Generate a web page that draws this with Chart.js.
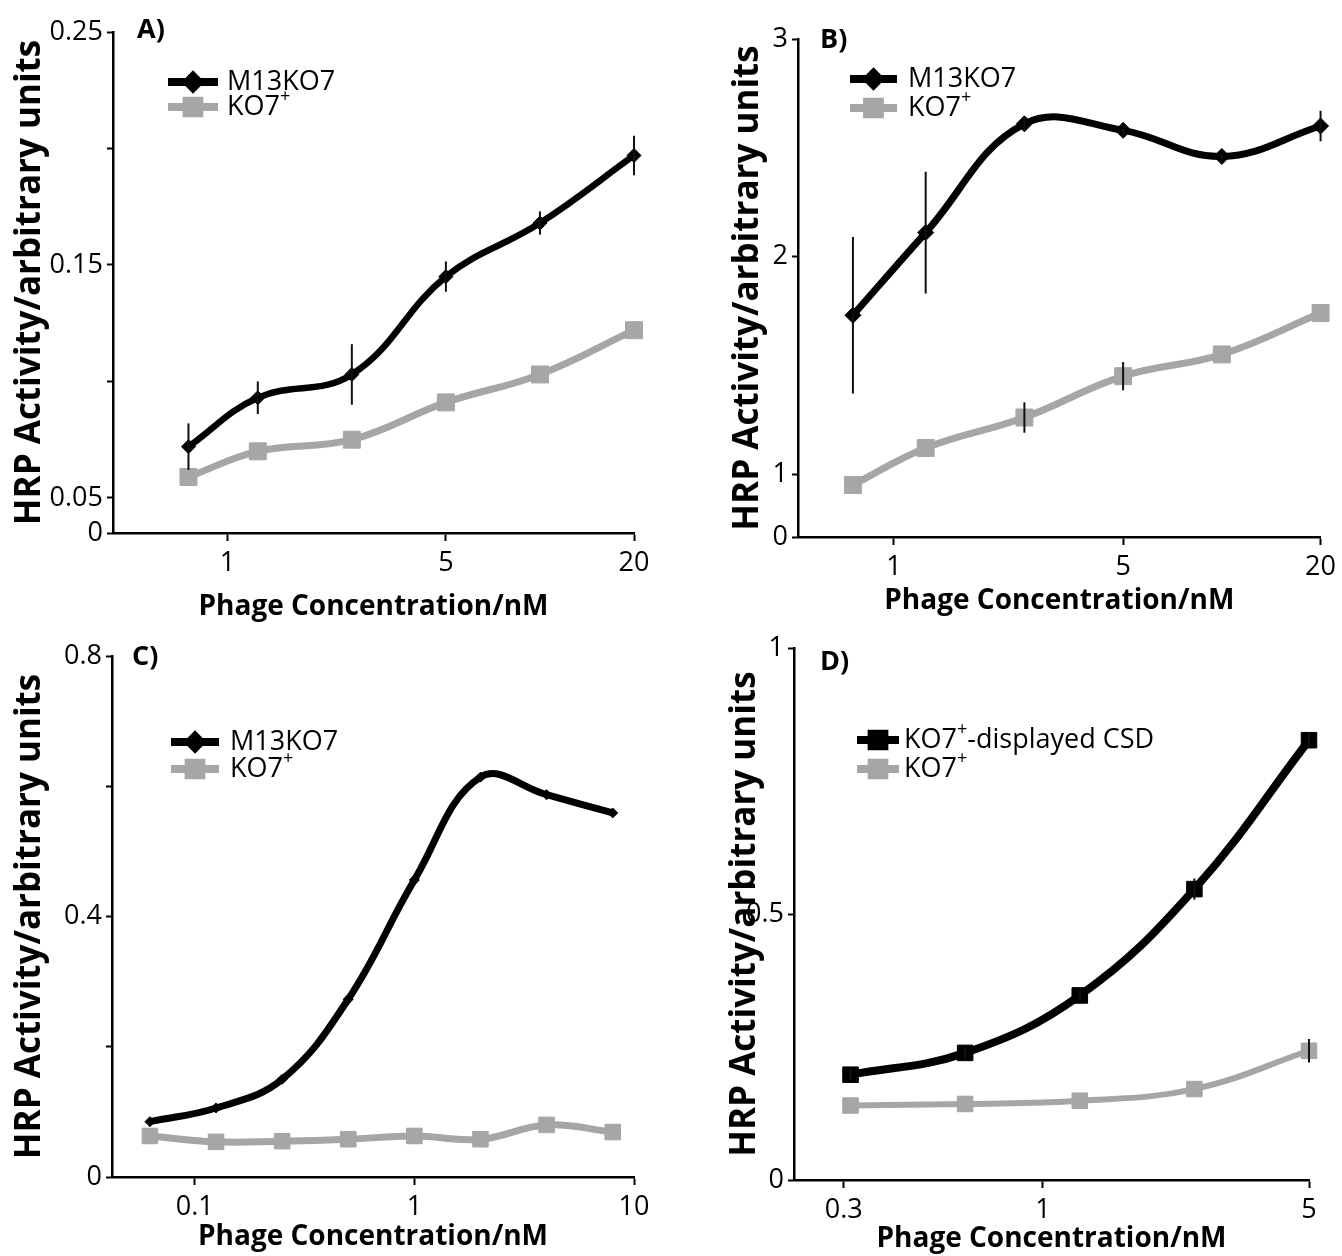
<!DOCTYPE html>
<html>
<head>
<meta charset="utf-8">
<script src="https://cdn.jsdelivr.net/npm/chart.js@4/dist/chart.umd.min.js"></script>
<style>
  html, body { margin: 0; padding: 0; background: #fff; }
  #wrap { position: relative; width: 1342px; height: 1256px; overflow: hidden; background: #fff; }
  .panel { position: absolute; width: 671px; height: 628px; }
</style>
</head>
<body>
<div id="wrap">
  <div class="panel" style="left:0;top:0"><canvas id="chartA" width="671" height="628"></canvas></div>
  <div class="panel" style="left:671px;top:0"><canvas id="chartB" width="671" height="628"></canvas></div>
  <div class="panel" style="left:0;top:628px"><canvas id="chartC" width="671" height="628"></canvas></div>
  <div class="panel" style="left:671px;top:628px"><canvas id="chartD" width="671" height="628"></canvas></div>
</div>
<script>
// ---- data ----
const concAB = [0.75, 1.25, 2.5, 5, 10, 20];
const m13A = [0.072, 0.093, 0.103, 0.145, 0.168, 0.197];
const m13ErrA = [0.010, 0.007, 0.013, 0.0065, 0.005, 0.0085];
const ko7A = [0.059, 0.070, 0.075, 0.091, 0.103, 0.122];

const m13B = [1.73, 2.11, 2.61, 2.58, 2.46, 2.60];
const m13ErrB = [0.36, 0.28, 0.03, 0.03, 0.02, 0.07];
const ko7B = [0.95, 1.12, 1.26, 1.45, 1.55, 1.74];
const ko7ErrB = [0, 0, 0.07, 0.065, 0, 0];

const concC = [0.0625, 0.125, 0.25, 0.5, 1, 2, 4, 8];
const m13C = [0.085, 0.106, 0.150, 0.273, 0.456, 0.614, 0.587, 0.559];
const ko7C = [0.063, 0.054, 0.055, 0.058, 0.063, 0.058, 0.080, 0.069];

const concD = [0.3125, 0.625, 1.25, 2.5, 5];
const csdD = [0.198, 0.239, 0.347, 0.547, 0.827];
const csdErrD = [0.01, 0.01, 0.01, 0.02, 0.015];
const ko7D = [0.140, 0.143, 0.149, 0.171, 0.243];
const ko7ErrD = [0, 0, 0, 0, 0.022];

const xTicksA = [1, 5, 20], xLabelsA = ["1", "5", "20"];
const yTicksA = [0, 0.05, 0.1, 0.15, 0.2, 0.25], yLabelsA = ["0", "0.05", "", "0.15", "", "0.25"];
const xTicksB = [1, 5, 20], xLabelsB = ["1", "5", "20"];
const yTicksB = [0, 1, 2, 3], yLabelsB = ["0", "1", "2", "3"];
const xTicksC = [0.1, 1, 10], xLabelsC = ["0.1", "1", "10"];
const yTicksC = [0, 0.2, 0.4, 0.6, 0.8], yLabelsC = ["0", "", "0.4", "", "0.8"];
const xTicksD = [0.3, 1, 5], xLabelsD = ["0.3", "1", "5"];
const yTicksD = [0, 0.5, 1], yLabelsD = ["0", "0.5", "1"];

const BLACK = "#000000";
const GREY = "#a6a6a6";
const FONT = "'Open Sans', 'Noto Sans', sans-serif";

Chart.defaults.font.family = FONT;
Chart.defaults.color = "#000";

// linear axis with a squeezed stretch near zero (the figure uses an axis break)
class BrokenLinearScale extends Chart.LinearScale {
  getPixelForValue(value) {
    const b = this.options.breakAt, f = this.options.breakFrac;
    if (b === undefined || value === null || isNaN(value)) return super.getPixelForValue(value);
    const dec = value <= b
      ? (value - this.min) / (b - this.min) * f
      : f + (value - b) / (this.max - b) * (1 - f);
    return this.getPixelForDecimal(dec);
  }
  getValueForPixel(pixel) {
    const b = this.options.breakAt, f = this.options.breakFrac;
    if (b === undefined) return super.getValueForPixel(pixel);
    const dec = this.getDecimalForPixel(pixel);
    return dec <= f
      ? this.min + dec / f * (b - this.min)
      : b + (dec - f) / (1 - f) * (this.max - b);
  }
}
BrokenLinearScale.id = "brokenLinear";
BrokenLinearScale.defaults = Chart.LinearScale.defaults;
Chart.register(BrokenLinearScale);

const pts = (xs, ys) => xs.map((x, i) => ({ x, y: ys[i] }));

// writes "KO7⁺" style labels with a raised, smaller plus sign
function drawLabel(ctx, text, x, y) {
  const parts = text.split("\u207A");
  let cx = x;
  parts.forEach((part, i) => {
    ctx.font = "27px " + FONT;
    ctx.fillText(part, cx, y);
    cx += ctx.measureText(part).width;
    if (i < parts.length - 1) {
      ctx.font = "18px " + FONT;
      ctx.fillText("+", cx, y - 10);
      cx += ctx.measureText("+").width;
    }
  });
}

// error bars, in-plot legend and the panel letter
const panelDecor = {
  id: "panelDecor",
  afterDatasetsDraw(chart, args, opts) {
    const ctx = chart.ctx;
    const xs = chart.scales.x, ys = chart.scales.y;
    chart.data.datasets.forEach((ds) => {
      if (!ds.errors) return;
      ctx.save();
      ctx.strokeStyle = "#111";
      ctx.lineWidth = 2;
      ds.data.forEach((p, j) => {
        const e = ds.errors[j];
        if (!e) return;
        const px = xs.getPixelForValue(p.x);
        ctx.beginPath();
        ctx.moveTo(px, ys.getPixelForValue(p.y + e));
        ctx.lineTo(px, ys.getPixelForValue(p.y - e));
        ctx.stroke();
      });
      ctx.restore();
    });

    const lg = opts.legend;
    chart.data.datasets.forEach((ds, i) => {
      const y = lg.y + i * lg.gap;
      ctx.save();
      ctx.strokeStyle = ds.borderColor;
      ctx.fillStyle = ds.borderColor;
      ctx.lineWidth = 8;
      ctx.beginPath();
      ctx.moveTo(lg.x, y);
      ctx.lineTo(lg.x + lg.len, y);
      ctx.stroke();
      Chart.helpers.drawPoint(ctx, {
        pointStyle: ds.pointStyle, radius: ds.legendRadius, rotation: 0, borderWidth: 1
      }, lg.x + lg.len / 2, y);
      ctx.restore();

      ctx.save();
      ctx.fillStyle = "#000";
      ctx.textBaseline = "middle";
      drawLabel(ctx, ds.label, lg.textX, y);
      ctx.restore();
    });

    ctx.save();
    ctx.font = "bold 27px " + FONT;
    ctx.fillStyle = "#000";
    ctx.textBaseline = "middle";
    ctx.fillText(opts.letter, opts.letterX, opts.letterY);
    ctx.restore();
  }
};

function series(label, data, color, style, radius, legendRadius, width, errors) {
  return {
    label, data, errors, legendRadius,
    borderColor: color, backgroundColor: color,
    pointBackgroundColor: color, pointBorderColor: color,
    pointStyle: style, pointRadius: radius, pointBorderWidth: 1,
    borderWidth: width, tension: 0.4, clip: false, fill: false
  };
}

function makeChart(id, p) {
  return new Chart(document.getElementById(id), {
    type: "line",
    data: { datasets: p.datasets },
    options: {
      responsive: false,
      animation: false,
      events: [],
      layout: { padding: { left: 0, top: p.top, right: p.right, bottom: 0 } },
      plugins: {
        legend: { display: false },
        tooltip: { enabled: false },
        panelDecor: { legend: p.legend, letter: p.letter, letterX: p.letterX, letterY: p.letterY }
      },
      scales: {
        x: {
          type: "logarithmic",
          min: p.xMin, max: p.xMax,
          afterBuildTicks: (s) => { s.ticks = p.xTicks.map((v) => ({ value: v })); },
          afterFit: (s) => { s.height = p.xHeight; },
          ticks: {
            autoSkip: false, maxRotation: 0, padding: 6,
            font: { size: 27 }, color: "#000",
            callback: (v, i) => p.xLabels[i]
          },
          grid: { display: true, drawOnChartArea: false, drawTicks: true, tickLength: 8, tickWidth: 2, tickColor: "#000" },
          border: { display: true, color: "#000", width: 2.5 },
          title: {
            display: true, text: "Phage Concentration/nM", color: "#000",
            font: { size: 28, weight: "bold" }, padding: { top: 0, bottom: p.xTitlePad }
          }
        },
        y: {
          type: p.yType,
          min: p.yMin, max: p.yMax,
          breakAt: p.breakAt, breakFrac: p.breakFrac,
          afterBuildTicks: (s) => { s.ticks = p.yTicks.map((v) => ({ value: v })); },
          afterFit: (s) => { s.width = p.yWidth; },
          ticks: {
            autoSkip: false, padding: 4,
            font: { size: 27 }, color: "#000",
            callback: (v, i) => p.yLabels[i]
          },
          grid: { display: true, drawOnChartArea: false, drawTicks: true, tickLength: 6, tickWidth: 2, tickColor: "#000" },
          border: { display: true, color: "#000", width: 2.5 },
          title: {
            display: true, text: "HRP Activity/arbitrary units", color: "#000",
            font: { size: 35, weight: "bold" }, padding: { top: p.yTitlePad, bottom: 0 }
          }
        }
      }
    },
    plugins: [panelDecor]
  });
}

makeChart("chartA", {
  datasets: [
    series("M13KO7", pts(concAB, m13A), BLACK, "rectRot", 7, 6, 6.5, m13ErrA),
    series("KO7\u207A", pts(concAB, ko7A), GREY, "rect", 12, 9, 7, null)
  ],
  top: 32, right: 37, xHeight: 95, yWidth: 113, xTitlePad: 4, yTitlePad: 9,
  xMin: 0.43, xMax: 20, xTicks: xTicksA, xLabels: xLabelsA,
  yType: "brokenLinear", yMin: 0, yMax: 0.25, breakAt: 0.05, breakFrac: 0.07,
  yTicks: yTicksA, yLabels: yLabelsA,
  legend: { x: 168, y: 82, gap: 25, len: 50, textX: 227 },
  letter: "A)", letterX: 137, letterY: 30
});

makeChart("chartB", {
  datasets: [
    series("M13KO7", pts(concAB, m13B), BLACK, "rectRot", 8, 6, 7, m13ErrB),
    series("KO7\u207A", pts(concAB, ko7B), GREY, "rect", 12, 9, 7, ko7ErrB)
  ],
  top: 39, right: 17, xHeight: 91, yWidth: 127, xTitlePad: 10, yTitlePad: 56,
  xMin: 0.51, xMax: 20, xTicks: xTicksB, xLabels: xLabelsB,
  yType: "brokenLinear", yMin: 0, yMax: 3, breakAt: 0.8, breakFrac: 0.039,
  yTicks: yTicksB, yLabels: yLabelsB,
  legend: { x: 179, y: 79, gap: 29, len: 47, textX: 237 },
  letter: "B)", letterX: 149, letterY: 40
});

makeChart("chartC", {
  datasets: [
    series("M13KO7", pts(concC, m13C), BLACK, "rectRot", 5, 6, 7, null),
    series("KO7\u207A", pts(concC, ko7C), GREY, "rect", 11, 9, 7, null)
  ],
  top: 28, right: 37, xHeight: 79, yWidth: 112, xTitlePad: 2, yTitlePad: 9,
  xMin: 0.042, xMax: 10, xTicks: xTicksC, xLabels: xLabelsC,
  yType: "linear", yMin: 0, yMax: 0.8,
  yTicks: yTicksC, yLabels: yLabelsC,
  legend: { x: 171, y: 114, gap: 27, len: 48, textX: 230 },
  letter: "C)", letterX: 132, letterY: 29
});

makeChart("chartD", {
  datasets: [
    series("KO7\u207A-displayed CSD", pts(concD, csdD), BLACK, "rect", 11, 9, 8, csdErrD),
    series("KO7\u207A", pts(concD, ko7D), GREY, "rect", 11, 9, 6, ko7ErrD)
  ],
  top: 16, right: 33, xHeight: 76, yWidth: 123, xTitlePad: 0, yTitlePad: 53,
  xMin: 0.222, xMax: 5, xTicks: xTicksD, xLabels: xLabelsD,
  yType: "linear", yMin: 0, yMax: 1,
  yTicks: yTicksD, yLabels: yLabelsD,
  legend: { x: 186, y: 112, gap: 29, len: 42, textX: 233 },
  letter: "D)", letterX: 149, letterY: 34
});
</script>
</body>
</html>
